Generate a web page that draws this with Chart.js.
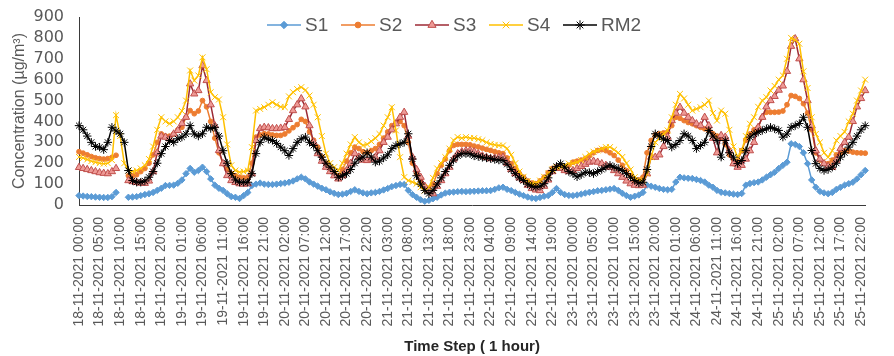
<!DOCTYPE html>
<html lang="en">
<head>
<meta charset="UTF-8">
<title>Hourly concentration S1-S4 and RM2</title>
<script src="https://cdn.jsdelivr.net/npm/chart.js@4.4.1/dist/chart.umd.min.js"></script>
<style>
  html, body { margin: 0; padding: 0; background: #ffffff; }
  #wrap { width: 894px; height: 356px; }
</style>
</head>
<body>
<div id="wrap"><canvas id="chart" width="894" height="356"></canvas></div>
<script>
// categories: hourly steps 18-11-2021 00:00 .. 25-11-2021 23:00
const days = ['18', '19', '20', '21', '22', '23', '24', '25'];
const hours = ['00:00', '01:00', '02:00', '03:00', '04:00', '05:00', '06:00', '07:00',
               '08:00', '09:00', '10:00', '11:00', '12:00', '13:00', '14:00', '15:00',
               '16:00', '17:00', '18:00', '19:00', '20:00', '21:00', '22:00', '23:00'];
const timeLabels = days.flatMap(d => hours.map(h => d + '-11-2021 ' + h));
const labelEvery = 5;

const yTicks = { min: 0, max: 900, step: 100 };

// series values (µg/m3), one value per hour
const s1 = [
  45, 43, 41, 40, 38, 37, 36, 36, 40, 60, null, null,
  37, 38, 40, 45, 50, 54, 60, 70, 80, 93, 94, 95,
  104, 120, 150, 175, 157, 165, 181, 160, 125, 95, 80, 70,
  54, 40, 37, 31, 45, 60, 93, 100, 105, 100, 98, 98,
  100, 103, 105, 109, 115, 125, 133, 125, 110, 100, 90, 80,
  73, 63, 56, 50, 52, 56, 65, 73, 65, 58, 54, 58,
  60, 65, 72, 79, 88, 93, 98, 98, 70, 50, 37, 25,
  18, 22, 30, 37, 48, 57, 61, 62, 64, 65, 64, 65,
  66, 67, 68, 68, 69, 75, 82, 85, 75, 69, 60, 52,
  45, 38, 33, 31, 36, 42, 45, 60, 79, 60, 50, 46,
  45, 48, 52, 57, 61, 64, 68, 70, 73, 76, 79, 70,
  56, 45, 37, 42, 48, 60, 95, 90, 85, 79, 75, 73,
  75, 110, 133, 130, 128, 127, 122, 117, 110, 95, 85, 70,
  61, 58, 55, 52, 50, 55, 95, 103, 107, 110, 120, 133,
  145, 157, 175, 190, 205, 293, 290, 280, 250, 198, 120, 85,
  65, 58, 54, 60, 75, 85, 95, 102, 109, 125, 145, 165
];
const s2 = [
  255, 248, 240, 232, 226, 222, 220, 222, 228, 238, null, null,
  140, 140, 145, 160, 175, 200, 240, 300, 340, 330, 330, 340,
  360, 372, 420, 452, 437, 450, 500, 470, 400, 320, 250, 198,
  170, 150, 140, 133, 130, 133, 200, 325, 335, 341, 340, 335,
  333, 333, 340, 355, 370, 385, 410, 400, 350, 310, 277, 230,
  198, 175, 155, 140, 170, 210, 250, 277, 270, 255, 250, 260,
  270, 290, 320, 350, 380, 395, 400, 380, 300, 200, 150, 115,
  90, 80, 100, 150, 190, 220, 260, 285, 290, 290, 290, 288,
  282, 278, 272, 266, 261, 255, 250, 246, 225, 198, 175, 150,
  133, 115, 105, 102, 115, 133, 155, 175, 181, 181, 181, 190,
  205, 210, 215, 222, 235, 250, 261, 265, 260, 250, 237, 215,
  190, 165, 140, 117, 120, 133, 250, 309, 335, 341, 345, 349,
  380, 420, 415, 404, 395, 389, 380, 372, 365, 357, 341, 330,
  320, 290, 240, 198, 210, 260, 310, 340, 360, 372, 420, 444,
  444, 444, 445, 450, 480, 524, 520, 510, 485, 440, 360, 250,
  215, 200, 198, 215, 240, 250, 261, 258, 253, 250, 249, 248
];
const s3 = [
  180, 175, 170, 165, 160, 155, 152, 150, 160, 175, null, null,
  117, 112, 108, 105, 104, 115, 160, 250, 330, 325, 317, 340,
  357, 390, 420, 580, 532, 548, 667, 596, 480, 380, 261, 198,
  141, 117, 108, 102, 100, 102, 150, 309, 366, 372, 370, 366,
  366, 368, 372, 410, 452, 480, 509, 470, 380, 300, 246, 210,
  181, 160, 140, 125, 140, 165, 200, 246, 230, 215, 213, 220,
  229, 260, 300, 325, 360, 389, 420, 444, 330, 229, 170, 133,
  90, 69, 54, 90, 117, 150, 181, 220, 246, 255, 260, 261,
  255, 245, 235, 228, 222, 225, 228, 229, 200, 170, 150, 130,
  117, 95, 79, 72, 69, 90, 120, 160, 180, 175, 165, 160,
  165, 175, 185, 195, 205, 210, 205, 198, 190, 181, 165, 150,
  133, 115, 102, 95, 93, 95, 150, 229, 229, 240, 280, 325,
  404, 440, 468, 440, 420, 404, 389, 380, 420, 380, 320, 250,
  333, 325, 260, 198, 181, 190, 220, 260, 300, 372, 420, 470,
  500, 520, 550, 570, 640, 760, 796, 700, 600, 500, 380, 260,
  220, 198, 185, 181, 215, 270, 300, 325, 400, 470, 510, 548
];
const s4 = [
  230, 225, 218, 210, 205, 200, 198, 200, 215, 430, 330, 200,
  165, 160, 165, 175, 190, 220, 280, 360, 420, 400, 389, 400,
  420, 450, 500, 644, 596, 620, 707, 650, 540, 516, 505, 420,
  290, 190, 165, 157, 160, 165, 277, 452, 460, 468, 480, 492,
  480, 470, 468, 520, 540, 555, 564, 550, 524, 480, 420, 330,
  246, 200, 181, 165, 200, 246, 290, 325, 300, 285, 290, 305,
  320, 340, 380, 420, 468, 357, 229, 133, 117, 110, 102, 85,
  69, 85, 130, 175, 200, 229, 270, 310, 325, 320, 325, 320,
  320, 315, 310, 300, 292, 288, 285, 285, 270, 240, 200, 160,
  135, 115, 102, 105, 117, 135, 150, 170, 181, 181, 190, 198,
  200, 205, 215, 230, 245, 255, 261, 270, 277, 277, 265, 250,
  230, 200, 170, 133, 120, 117, 150, 229, 300, 320, 340, 357,
  420, 480, 532, 510, 480, 452, 460, 468, 480, 500, 440, 404,
  452, 437, 360, 280, 229, 260, 330, 389, 420, 470, 500, 516,
  548, 570, 600, 620, 700, 800, 790, 772, 640, 560, 420, 340,
  300, 250, 229, 260, 309, 330, 350, 400, 437, 500, 548, 600
];
const rm2 = [
  380, 360, 330, 300, 280, 277, 265, 300, 372, 355, 341, 300,
  165, 117, 109, 109, 115, 133, 160, 200, 246, 280, 309, 300,
  317, 325, 340, 380, 340, 330, 341, 372, 366, 372, 330, 260,
  200, 150, 120, 109, 109, 109, 150, 246, 300, 325, 315, 309,
  295, 277, 260, 237, 270, 300, 317, 325, 300, 285, 260, 229,
  200, 181, 160, 133, 140, 150, 170, 200, 220, 229, 250, 229,
  205, 210, 225, 240, 270, 285, 293, 300, 341, 220, 140, 100,
  70, 54, 70, 100, 130, 160, 190, 215, 235, 246, 246, 245,
  235, 232, 228, 225, 222, 218, 215, 213, 195, 170, 150, 130,
  117, 100, 90, 85, 90, 102, 130, 165, 185, 198, 181, 160,
  150, 135, 145, 157, 155, 150, 160, 170, 181, 190, 181, 175,
  165, 150, 133, 117, 105, 109, 170, 280, 341, 330, 315, 309,
  277, 290, 309, 341, 330, 309, 270, 285, 300, 357, 330, 309,
  229, 309, 250, 229, 198, 213, 260, 325, 340, 349, 357, 365,
  372, 365, 357, 325, 340, 372, 380, 390, 420, 372, 261, 198,
  175, 165, 170, 181, 200, 229, 250, 277, 300, 330, 360, 380
];

const textColor = '#595959';
const axisColor = '#3a3a3a';

// legend drawn inside the plot, like the Excel original (line sample + marker + name)
const seriesLegend = {
  id: 'seriesLegend',
  afterDraw(chart) {
    const ctx = chart.ctx;
    const y = 25;
    ctx.save();
    chart.data.datasets.forEach((ds, k) => {
      const x0 = 267 + k * 74;
      ctx.strokeStyle = ds.borderColor;
      ctx.lineWidth = ds.borderWidth;
      ctx.beginPath();
      ctx.moveTo(x0, y);
      ctx.lineTo(x0 + 34, y);
      ctx.stroke();
      ctx.fillStyle = ds.pointBackgroundColor;
      ctx.strokeStyle = ds.pointBorderColor;
      ctx.lineWidth = ds.pointBorderWidth;
      Chart.helpers.drawPoint(ctx, {
        pointStyle: ds.pointStyle, radius: ds.pointRadius + 0.5, rotation: 0, borderWidth: ds.pointBorderWidth
      }, x0 + 17, y);
      ctx.fillStyle = textColor;
      ctx.font = '19px "Liberation Sans", Arial, sans-serif';
      ctx.textBaseline = 'middle';
      ctx.textAlign = 'left';
      ctx.fillText(ds.label, x0 + 38, y + 1);
    });
    ctx.restore();
  }
};

function series(label, data, line, fill, edge, style, radius, order) {
  return {
    label: label,
    data: data,
    borderColor: line,
    backgroundColor: fill,
    borderWidth: 1.5,
    pointStyle: style,
    pointRadius: radius,
    pointBackgroundColor: fill,
    pointBorderColor: edge,
    pointBorderWidth: 1,
    tension: 0,
    spanGaps: false,
    order: order
  };
}

new Chart(document.getElementById('chart'), {
  type: 'line',
  data: {
    labels: timeLabels,
    datasets: [
      series('S1', s1, '#5B9BD5', '#5B9BD5', '#5B9BD5', 'rectRot', 3.2, 5),
      series('S2', s2, '#ED7D31', '#ED7D31', '#ED7D31', 'circle', 2.4, 4),
      series('S3', s3, '#9C2A35', '#EE9A96', '#C0504D', 'triangle', 4.2, 3),
      series('S4', s4, '#FFC000', '#FFC000', '#FFC000', 'crossRot', 4.2, 2),
      series('RM2', rm2, '#000000', '#000000', '#000000', 'star', 4.2, 1)
    ]
  },
  options: {
    responsive: false,
    animation: false,
    layout: { padding: { top: 17, right: 9, bottom: 0, left: 0 } },
    plugins: {
      legend: { display: false },
      tooltip: { enabled: false }
    },
    scales: {
      x: {
        offset: false,
        grid: { display: false, drawTicks: false },
        border: { display: true, color: axisColor, width: 1 },
        ticks: {
          autoSkip: false,
          minRotation: 90,
          maxRotation: 90,
          padding: 12,
          color: textColor,
          font: { family: '"Liberation Sans", Arial, sans-serif', size: 14 },
          callback: (value, index) => index % labelEvery === 0 ? timeLabels[index] : ''
        },
        title: {
          display: true,
          text: 'Time Step ( 1 hour)',
          color: '#262626',
          font: { family: '"Liberation Sans", Arial, sans-serif', size: 15, weight: 'bold' },
          padding: { top: 0, bottom: 0 }
        },
        afterFit: scale => { scale.height = 151; }
      },
      y: {
        min: yTicks.min,
        max: yTicks.max,
        grid: { display: false, drawTicks: false },
        border: { display: true, color: axisColor, width: 1 },
        ticks: {
          autoSkip: false,
          stepSize: yTicks.step,
          padding: 15,
          color: textColor,
          font: { family: '"DejaVu Sans", sans-serif', size: 16 }
        },
        title: {
          display: true,
          text: 'Concentration (µg/m³)',
          color: textColor,
          font: { family: '"Liberation Sans", Arial, sans-serif', size: 16 },
          padding: { top: 10, bottom: 0 }
        },
        afterFit: scale => {
          scale.width = 79;
          // tick padding would otherwise push the plot top down
          scale.paddingTop = 0;
          scale.paddingBottom = 0;
        }
      }
    }
  },
  plugins: [seriesLegend]
});
</script>
</body>
</html>
